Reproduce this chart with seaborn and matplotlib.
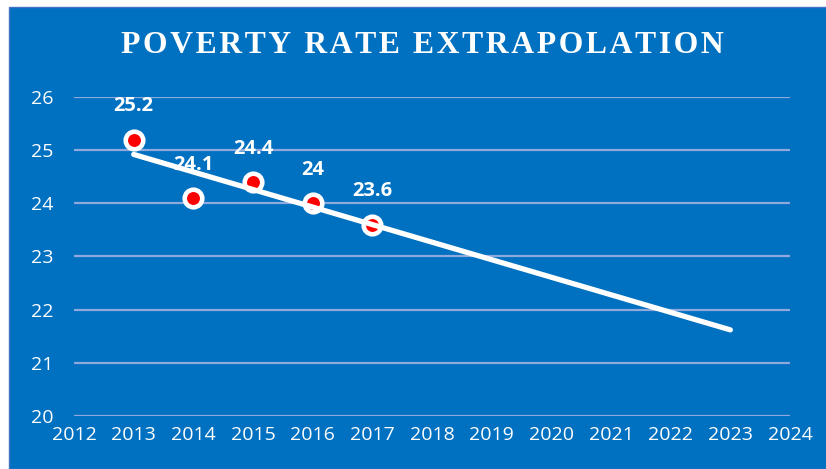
import numpy as np
import pandas as pd
import matplotlib.pyplot as plt
import seaborn as sns
from matplotlib.patches import Rectangle

# observed poverty rate (%)
years = [2013, 2014, 2015, 2016, 2017]
rates = [25.2, 24.1, 24.4, 24.0, 23.6]
labels = ["25.2", "24.1", "24.4", "24", "23.6"]
trend_years = [2013, 2023]
title = "POVERTY RATE EXTRAPOLATION"

df = pd.DataFrame({"year": years, "rate": rates})

# linear extrapolation
slope, intercept = np.polyfit(years, rates, 1)
trend = pd.DataFrame({"year": trend_years})
trend["rate"] = slope * trend["year"] + intercept

sns.set_style("white")
plt.rcParams["font.family"] = ["Open Sans", "DejaVu Sans"]

blue = "#0070C0"
fig = plt.figure(figsize=(8.26, 4.69), dpi=100, facecolor="white")
fig.patches.append(Rectangle((9 / 826, 0), 1, 1 - 7 / 469, transform=fig.transFigure,
                             facecolor=blue, edgecolor="#4472C4", linewidth=1, zorder=-1))
ax = fig.add_axes([0.0896, 0.113, 0.8668, 0.6802])
ax.set_zorder(2)
ax.set_facecolor(blue)

sns.scatterplot(data=df, x="year", y="rate", ax=ax, s=160, color="#FF0000",
                edgecolor="white", linewidth=3.3, zorder=3)
sns.lineplot(data=trend, x="year", y="rate", ax=ax, color="white", linewidth=3.8,
             zorder=4)
ax.lines[-1].set_solid_capstyle("round")

for x, y, t in zip(years, rates, labels):
    ax.annotate(t, (x, y), xytext=(0, 24), textcoords="offset points", ha="center",
                va="center", color="white", fontsize=14.5, fontweight="bold")

ax.set_xlim(2012, 2024)
ax.set_ylim(20, 26)
ax.set_xticks(range(2012, 2025))
ax.set_yticks(range(20, 27))
ax.grid(axis="y", color="#8FA9DC", linewidth=1.6)
ax.set_axisbelow(True)
for s in ax.spines.values():
    s.set_visible(False)
ax.tick_params(axis="both", length=0, colors="white", labelsize=14)
ax.tick_params(axis="y", pad=15)
ax.tick_params(axis="x", pad=7)
ax.set_xlabel("")
ax.set_ylabel("")

# letter-spaced title
fig.text(0.511, 0.904, "\u200a".join(title), ha="center", va="center",
         color="white", fontsize=22.8, fontweight="bold",
         family=["Liberation Serif", "DejaVu Serif"])

fig.savefig("out.png", dpi=100, facecolor="white")
